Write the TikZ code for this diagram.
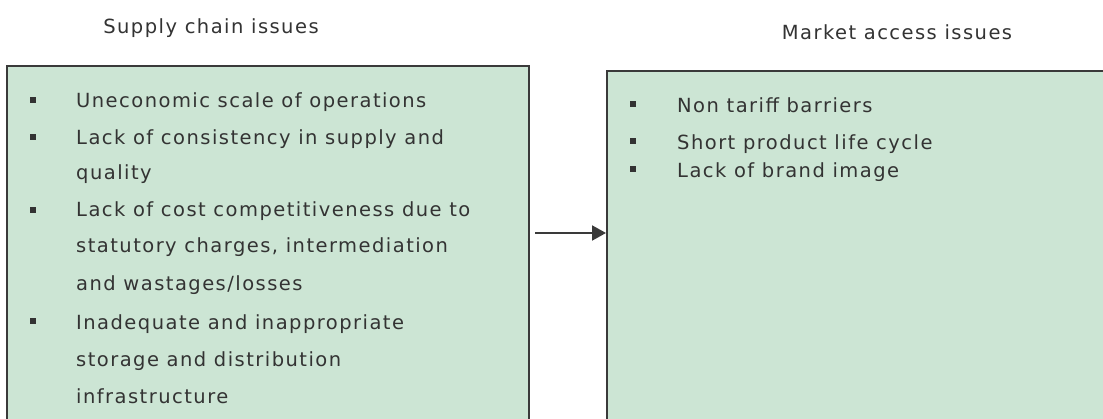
\documentclass[tikz,border=0pt]{standalone}
\usepackage{fontspec}
\setmainfont{DejaVu Sans}[LetterSpace=7.5]
\usetikzlibrary{arrows.meta}
\definecolor{boxfill}{HTML}{CCE5D4}
\definecolor{boxline}{HTML}{3A3A3A}
\definecolor{txt}{HTML}{333333}
\tikzset{
  issuebox/.style={draw=boxline, line width=2pt, fill=boxfill},
  line/.style={anchor=base west, inner sep=0pt, text=txt, font=\fontsize{19.5}{23}\selectfont},
  head/.style={anchor=base, inner sep=0pt, text=txt, font=\fontsize{19.5}{23}\selectfont},
  bul/.style={fill=txt, inner sep=0pt, minimum size=6pt, rectangle},
  conn/.style={draw=boxline, line width=2pt, -{Triangle[length=14pt,width=15pt]}}
}
\begin{document}
\begin{tikzpicture}[x=1pt,y=-1pt]
\clip (0,0) rectangle (1103,419);
\fill[white] (0,0) rectangle (1103,419);
\draw[issuebox] (7,66) rectangle (529,440);
\draw[issuebox] (607,71) rectangle (1120,440);
\node[head] (t1) at (211,34) {Supply chain issues};
\node[head] (t2) at (897,40) {Market access issues};
% left list
\node[bul] (b1) at (33,100) {};
\node[line] (l1) at (76,108) {Uneconomic scale of operations};
\node[bul] (b2) at (33,137) {};
\node[line] (l2) at (76,145) {Lack of consistency in supply and};
\node[line] (l3) at (76,180) {quality};
\node[bul] (b3) at (33,210) {};
\node[line] (l4) at (76,217) {Lack of cost competitiveness due to};
\node[line] (l5) at (76,253) {statutory charges, intermediation};
\node[line] (l6) at (76,291) {and wastages/losses};
\node[bul] (b4) at (33,321) {};
\node[line] (l7) at (76,330) {Inadequate and inappropriate};
\node[line] (l8) at (76,367) {storage and distribution};
\node[line] (l9) at (76,403) {infrastructure};
% right list
\node[bul] (c1) at (633,104) {};
\node[line] (r1) at (677,113) {Non tariff barriers};
\node[bul] (c2) at (633,141) {};
\node[line] (r2) at (677,150) {Short product life cycle};
\node[bul] (c3) at (633,169) {};
\node[line] (r3) at (677,178) {Lack of brand image};
\coordinate (a1) at (535,233);
\coordinate (a2) at (606,233);
\draw[conn] (a1) -- (a2);
\end{tikzpicture}
\end{document}
